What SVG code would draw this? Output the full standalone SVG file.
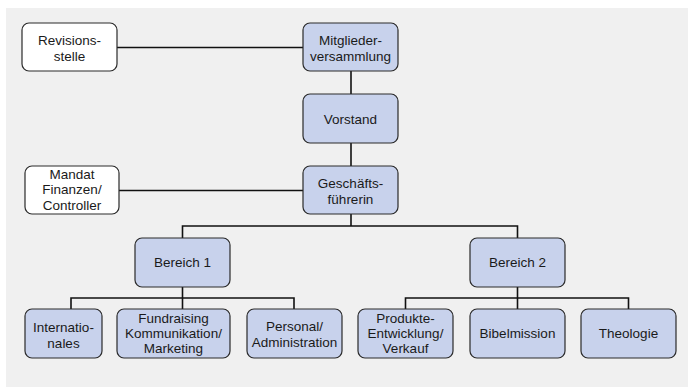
<svg xmlns="http://www.w3.org/2000/svg" width="688" height="387" viewBox="0 0 688 387">
<style>
.box{fill:#c8d2ec;stroke:#2a2a2a;stroke-width:1.2}
.wbox{fill:#ffffff;stroke:#2a2a2a;stroke-width:1.2}
.t{font-family:"Liberation Sans",Arial,sans-serif;font-size:13.5px;fill:#1a1a1a;text-anchor:middle}
.c{fill:none;stroke:#111;stroke-width:1.6}
</style>
<rect x="6" y="8" width="682" height="379" fill="#f0f0f0"/>
<g id="connectors">
<line class="c" x1="117" y1="47.5" x2="303" y2="47.5"/>
<line class="c" x1="351" y1="71" x2="351" y2="94"/>
<line class="c" x1="351" y1="143" x2="351" y2="166"/>
<line class="c" x1="119" y1="190.5" x2="303" y2="190.5"/>
<polyline class="c" points="351,214 351,226"/>
<polyline class="c" points="182.5,238 182.5,226 517.5,226 517.5,238"/>
<polyline class="c" points="182.5,287 182.5,309"/>
<polyline class="c" points="71,309 71,298 294,298 294,309"/>
<polyline class="c" points="517.5,287 517.5,309"/>
<polyline class="c" points="405.5,309 405.5,298 628.5,298 628.5,309"/>
</g>
<g id="revisionsstelle"><rect class="wbox" x="22" y="23" width="95" height="48" rx="7"/><text class="t" x="69.5" y="45.3">Revisions-</text><text class="t" x="69.5" y="60.5">stelle</text></g>
<g id="mitgliederversammlung"><rect class="box" x="303" y="23" width="95" height="48" rx="7"/><text class="t" x="350.5" y="45.3">Mitglieder-</text><text class="t" x="350.5" y="60.5">versammlung</text></g>
<g id="vorstand"><rect class="box" x="303" y="94" width="95" height="49" rx="7"/><text class="t" x="350.5" y="123.5">Vorstand</text></g>
<g id="mandat"><rect class="wbox" x="25" y="166" width="94" height="48" rx="7"/><text class="t" x="72" y="179.2">Mandat</text><text class="t" x="72" y="194.4">Finanzen/</text><text class="t" x="72" y="209.6">Controller</text></g>
<g id="geschaeftsfuehrerin"><rect class="box" x="303" y="166" width="95" height="48" rx="7"/><text class="t" x="350.5" y="188.3">Geschäfts-</text><text class="t" x="350.5" y="203.5">führerin</text></g>
<g id="bereich1"><rect class="box" x="135" y="238" width="95" height="49" rx="7"/><text class="t" x="182.5" y="267">Bereich 1</text></g>
<g id="bereich2"><rect class="box" x="470" y="238" width="95" height="49" rx="7"/><text class="t" x="517.5" y="267">Bereich 2</text></g>
<g id="internationales"><rect class="box" x="25" y="309" width="77" height="49" rx="7"/><text class="t" x="63.5" y="332.3">Internatio-</text><text class="t" x="63.5" y="347.5">nales</text></g>
<g id="fundraising"><rect class="box" x="117" y="309" width="113" height="49" rx="7"/><text class="t" x="173.5" y="323">Fundraising</text><text class="t" x="173.5" y="338.2">Kommunikation/</text><text class="t" x="173.5" y="353.4">Marketing</text></g>
<g id="personal"><rect class="box" x="247" y="309" width="95" height="49" rx="7"/><text class="t" x="294.5" y="331.3">Personal/</text><text class="t" x="294.5" y="346.5">Administration</text></g>
<g id="produkte"><rect class="box" x="358" y="309" width="95" height="49" rx="7"/><text class="t" x="405.5" y="323">Produkte-</text><text class="t" x="405.5" y="338.2">Entwicklung/</text><text class="t" x="405.5" y="353.4">Verkauf</text></g>
<g id="bibelmission"><rect class="box" x="470" y="309" width="95" height="49" rx="7"/><text class="t" x="517.5" y="338.3">Bibelmission</text></g>
<g id="theologie"><rect class="box" x="581" y="309" width="95" height="49" rx="7"/><text class="t" x="628.5" y="338.3">Theologie</text></g>
</svg>
